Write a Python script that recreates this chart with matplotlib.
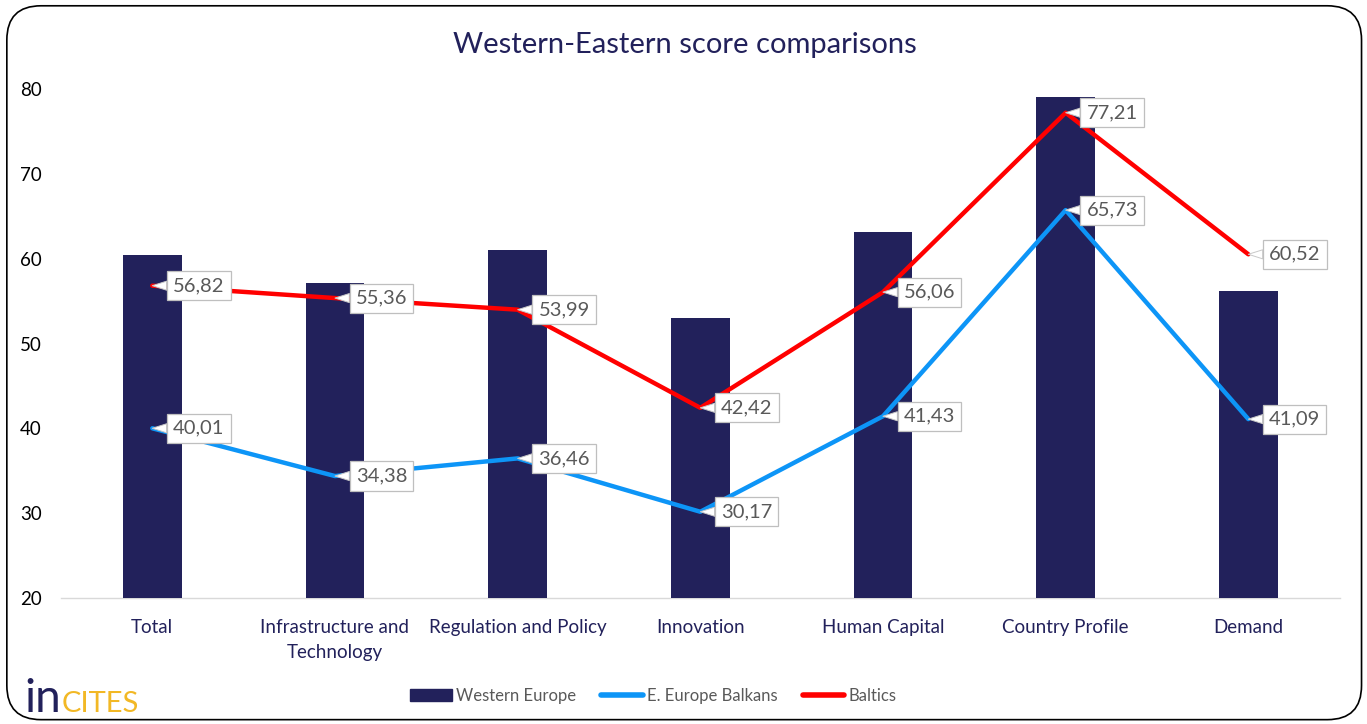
import numpy as np
import matplotlib
matplotlib.use('Agg')
import matplotlib.pyplot as plt
from matplotlib.patches import FancyBboxPatch, Patch
from matplotlib.lines import Line2D

plt.rcParams['font.family'] = ['Lato', 'DejaVu Sans']

categories = ["Total", "Infrastructure and\nTechnology", "Regulation and Policy",
              "Innovation", "Human Capital", "Country Profile", "Demand"]
western_europe = [60.4, 57.1, 61.0, 53.0, 63.1, 79.1, 56.2]
balkans = [40.01, 34.38, 36.46, 30.17, 41.43, 65.73, 41.09]
baltics = [56.82, 55.36, 53.99, 42.42, 56.06, 77.21, 60.52]
y_ticks = [20, 30, 40, 50, 60, 70, 80]

NAVY = '#22215B'
BLUE = '#0D95F7'
RED = '#FF0000'
GRAY = '#595959'

fig = plt.figure(figsize=(13.67, 7.24), dpi=100)
ax = fig.add_axes([0.0446, 0.174, 0.9354, 0.703])

x = np.arange(len(categories))
ax.bar(x, western_europe, width=0.32, color=NAVY, zorder=2)
ax.plot(x, balkans, color=BLUE, lw=3.2, zorder=3, solid_capstyle='round')
ax.plot(x, baltics, color=RED, lw=3.2, zorder=3, solid_capstyle='round')


def label(xi, yi):
    ax.annotate(f"{yi:.2f}".replace('.', ','), xy=(xi, yi), xytext=(15, 0),
                textcoords='offset points', ha='left', va='center',
                fontsize=14.5, color=GRAY, zorder=5,
                bbox=dict(boxstyle='square,pad=0.3', fc='white', ec='#BFBFBF', lw=0.9),
                arrowprops=dict(arrowstyle='wedge,tail_width=0.45,shrink_factor=0.5',
                                fc='white', ec='#C8C8C8', lw=0.7, shrinkA=0, shrinkB=0))


for xi, yi in zip(x, balkans):
    label(xi, yi)
for xi, yi in zip(x, baltics):
    label(xi, yi)

ax.set_xlim(-0.5, len(categories) - 0.5)
ax.set_ylim(20, 80)
ax.set_yticks(y_ticks)
ax.set_xticks(x)
ax.set_xticklabels(categories, color=NAVY, fontsize=13.5, linespacing=1.55)
ax.tick_params(axis='y', length=0, pad=14, labelsize=13.5, labelcolor='black')
ax.tick_params(axis='x', length=0, pad=15)
for s in ['top', 'right', 'left']:
    ax.spines[s].set_visible(False)
ax.spines['bottom'].set_color('#D9D9D9')
ax.spines['bottom'].set_linewidth(1)
ax.spines['bottom'].set_zorder(1)

fig.text(0.501, 0.938, "Western-Eastern score comparisons", ha='center', va='center',
         fontsize=21, color=NAVY)

handles = [Patch(facecolor=NAVY, edgecolor=NAVY),
           Line2D([0], [0], color=BLUE, lw=4, solid_capstyle='round'),
           Line2D([0], [0], color=RED, lw=4, solid_capstyle='round')]
fig.legend(handles, ["Western Europe", "E. Europe Balkans", "Baltics"],
           loc='center', bbox_to_anchor=(0.478, 0.039), ncol=3, frameon=False,
           fontsize=12, labelcolor=GRAY, handlelength=2.5, handletextpad=0.25,
           columnspacing=1.5)

# logo
t1 = fig.text(0.018, 0.017, "in", fontsize=33, color=NAVY, ha='left', va='baseline')
fig.canvas.draw()
bb = t1.get_window_extent()
fig.text(bb.x1 / fig.bbox.width, 0.017, "CITES", fontsize=21, color='#F2B825',
         ha='left', va='baseline')

# rounded frame
frame = FancyBboxPatch((0.005, 0.006), 0.991, 0.986, transform=fig.transFigure,
                       boxstyle='round,pad=0,rounding_size=0.025', fc='none',
                       ec='black', lw=1.2, mutation_aspect=1367 / 724)
fig.patches.append(frame)

fig.savefig('out.png', dpi=100)
